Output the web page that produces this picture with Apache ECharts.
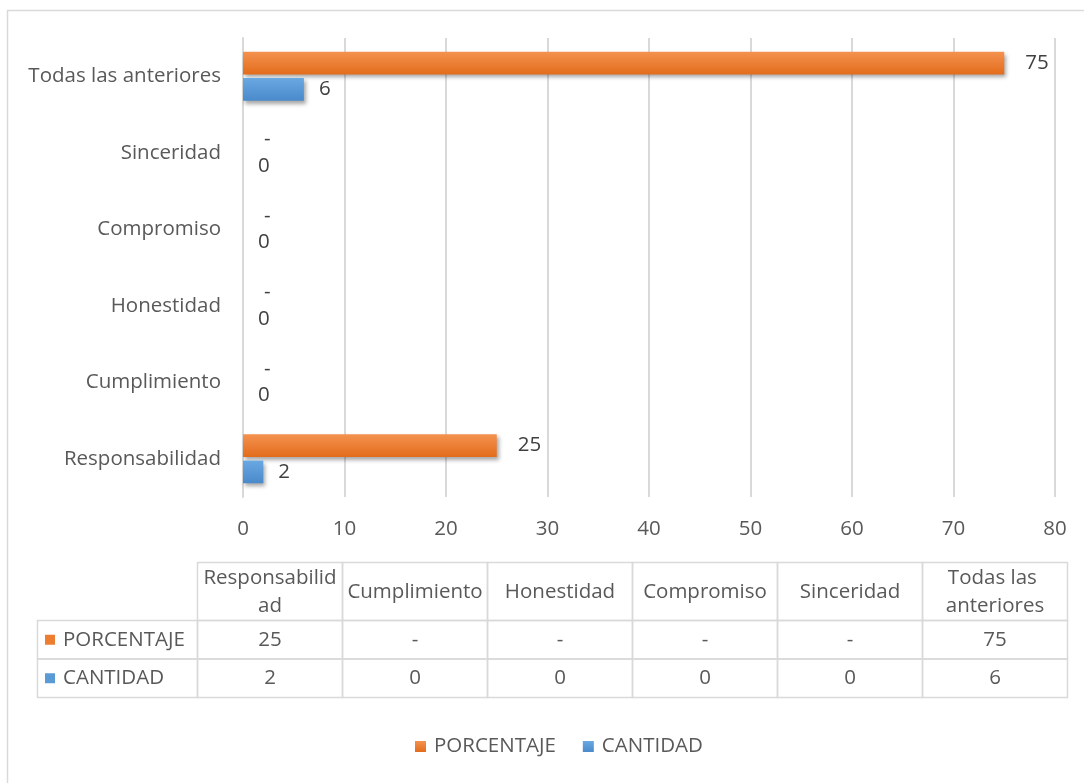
<!DOCTYPE html>
<html>
<head>
<meta charset="utf-8">
<script src="https://cdn.jsdelivr.net/npm/echarts@6/dist/echarts.min.js"></script>
<style>
  html, body { margin: 0; padding: 0; background: #ffffff; }
  #chart { width: 1084px; height: 783px; }
</style>
</head>
<body>
<div id="chart"></div>
<script>
// Values per category
const categories = ['Responsabilidad', 'Cumplimiento', 'Honestidad', 'Compromiso', 'Sinceridad', 'Todas las anteriores'];
const porcentaje = [25, 0, 0, 0, 0, 75];
const cantidad = [2, 0, 0, 0, 0, 6];
const seriesNames = ['PORCENTAJE', 'CANTIDAD'];
const xTicks = [0, 10, 20, 30, 40, 50, 60, 70, 80];

const FONT = 'Open Sans';
const FS = 20.5;
const TEXT = '#595959';
const LINE = '#d9d9d9';
const ORANGE = '#ed7d31';
const BLUE = '#5b9bd5';

// Zero percentages are shown as a dash
const fmtPct = v => (v === 0 ? '-' : String(v));
const fmtCnt = v => String(v);

function grad(top, bottom) {
  return new echarts.graphic.LinearGradient(0, 0, 0, 1, [
    { offset: 0, color: top },
    { offset: 1, color: bottom }
  ]);
}

// Data table below the plot
const tbl = { left: 37.5, headLeft: 197.5, colW: 145, top: 562.5, headH: 58, rowH: 38.5 };
const tableChildren = [];
const cellStyle = { fill: 'none', stroke: LINE, lineWidth: 1.5 };
const textStyle = { fill: TEXT, font: FS + 'px "' + FONT + '"', align: 'center', verticalAlign: 'middle' };

categories.forEach((c, i) => {
  const x = tbl.headLeft + i * tbl.colW;
  tableChildren.push({ type: 'rect', shape: { x: x, y: tbl.top, width: tbl.colW, height: tbl.headH }, style: cellStyle, silent: true });
  tableChildren.push({
    type: 'text', x: x + tbl.colW / 2, y: tbl.top + tbl.headH / 2 + 1, silent: true,
    style: Object.assign({}, textStyle, { text: c, width: tbl.colW - 6, overflow: 'break', lineHeight: 28 })
  });
});

const tableRows = [
  { name: seriesNames[0], color: ORANGE, values: porcentaje, fmt: fmtPct },
  { name: seriesNames[1], color: BLUE, values: cantidad, fmt: fmtCnt }
];
tableRows.forEach((row, r) => {
  const y = tbl.top + tbl.headH + r * tbl.rowH;
  tableChildren.push({ type: 'rect', shape: { x: tbl.left, y: y, width: tbl.headLeft - tbl.left, height: tbl.rowH }, style: cellStyle, silent: true });
  tableChildren.push({ type: 'rect', shape: { x: 45, y: y + tbl.rowH / 2 - 5, width: 10, height: 10 }, style: { fill: row.color }, silent: true });
  tableChildren.push({
    type: 'text', x: 63, y: y + tbl.rowH / 2, silent: true,
    style: Object.assign({}, textStyle, { text: row.name, align: 'left' })
  });
  row.values.forEach((v, i) => {
    const x = tbl.headLeft + i * tbl.colW;
    tableChildren.push({ type: 'rect', shape: { x: x, y: y, width: tbl.colW, height: tbl.rowH }, style: cellStyle, silent: true });
    tableChildren.push({
      type: 'text', x: x + tbl.colW / 2, y: y + tbl.rowH / 2, silent: true,
      style: Object.assign({}, textStyle, { text: row.fmt(v) })
    });
  });
});

const chart = echarts.init(document.getElementById('chart'), null, { renderer: 'canvas' });

const barShadow = { shadowBlur: 4, shadowOffsetX: 2, shadowOffsetY: 3, shadowColor: 'rgba(0,0,0,0.35)' };

chart.setOption({
  animation: false,
  backgroundColor: '#ffffff',
  textStyle: { fontFamily: FONT },
  grid: { left: 243, right: 29, top: 38, bottom: 286, containLabel: false },
  legend: {
    bottom: 21,
    left: 410,
    icon: 'rect',
    itemWidth: 11,
    itemHeight: 11,
    itemGap: 27,
    data: seriesNames,
    textStyle: { color: TEXT, fontSize: FS, fontFamily: FONT, padding: [0, 0, 0, 3] }
  },
  xAxis: {
    type: 'value',
    min: xTicks[0],
    max: xTicks[xTicks.length - 1],
    interval: xTicks[1] - xTicks[0],
    axisLine: { show: false },
    axisTick: { show: false },
    splitLine: { show: true, lineStyle: { color: LINE, width: 2 } },
    axisLabel: { color: TEXT, fontSize: FS, fontFamily: FONT, margin: 22 }
  },
  yAxis: {
    type: 'category',
    data: categories,
    axisLine: { show: true, lineStyle: { color: LINE, width: 2 } },
    axisTick: { show: false },
    axisLabel: { color: TEXT, fontSize: FS, fontFamily: FONT, margin: 22 }
  },
  series: [
    {
      name: seriesNames[0],
      type: 'bar',
      data: porcentaje,
      barGap: '16%',
      barCategoryGap: '36%',
      itemStyle: Object.assign({ color: grad('#f4924f', '#e36c1c') }, barShadow),
      label: {
        show: true, position: 'right', distance: 21,
        color: '#404040', fontSize: FS, fontFamily: FONT,
        formatter: p => fmtPct(p.value)
      }
    },
    {
      name: seriesNames[1],
      type: 'bar',
      data: cantidad,
      itemStyle: Object.assign({ color: grad('#6aa8e2', '#4a8acb') }, barShadow),
      label: {
        show: true, position: 'right', distance: 15,
        color: '#404040', fontSize: FS, fontFamily: FONT,
        formatter: p => fmtCnt(p.value)
      }
    }
  ],
  graphic: [
    { type: 'rect', shape: { x: 7.5, y: 10.5, width: 1100, height: 800 }, style: { fill: 'none', stroke: LINE, lineWidth: 1.5 }, silent: true, z: -1 },
    { type: 'group', children: tableChildren }
  ]
});
</script>
</body>
</html>
